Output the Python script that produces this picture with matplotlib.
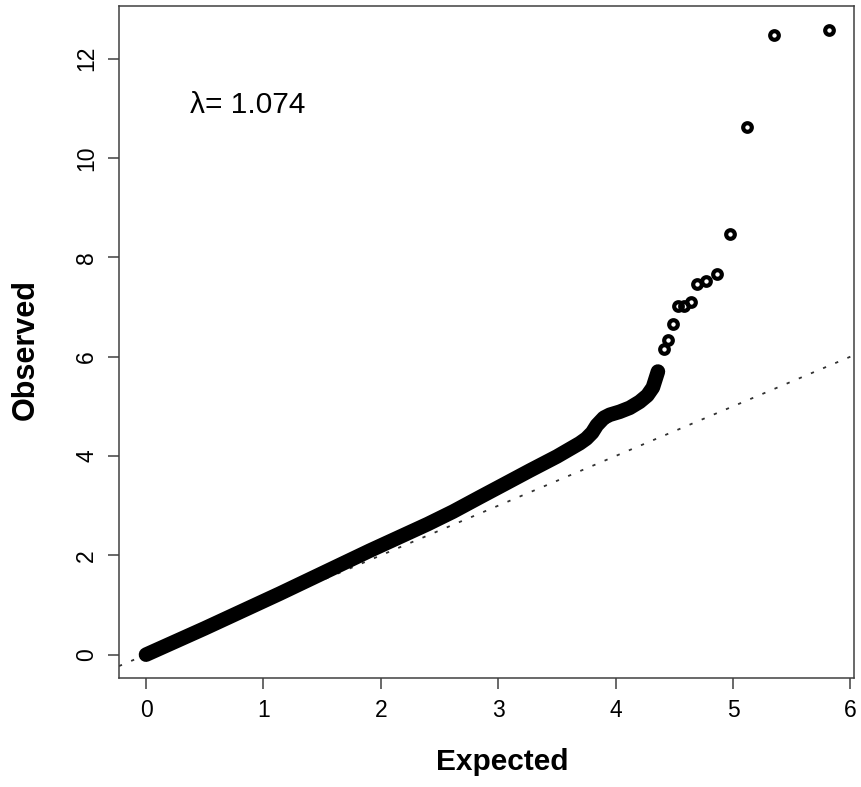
#QQ plot of observed vs expected -log10(p)

import numpy as np
import matplotlib
matplotlib.use('Agg')
import matplotlib.pyplot as plt

plt.rcParams['font.family'] = ['Liberation Sans', 'DejaVu Sans']

#dense part of the curve (points overlap into a solid band)
expected_main = [0.0, 0.5, 1.14, 1.906, 2.4, 2.615, 2.843, 3.05, 3.268, 3.5, 3.694, 3.75,
                 3.80, 3.84, 3.90, 3.95, 4.034, 4.12, 4.204, 4.27, 4.317, 4.36]
observed_main = [0.0, 0.53, 1.23, 2.094, 2.63, 2.88, 3.17, 3.43, 3.705, 3.99, 4.256, 4.35,
                 4.47, 4.62, 4.77, 4.83, 4.89, 4.97, 5.09, 5.22, 5.38, 5.70]

#sparse tail, single points
expected_tail = [4.41, 4.45, 4.49, 4.53, 4.58, 4.64, 4.69, 4.77, 4.86, 4.97, 5.12, 5.345, 5.82]
observed_tail = [6.15, 6.33, 6.66, 7.02, 7.02, 7.11, 7.46, 7.52, 7.66, 8.46, 10.62, 12.48, 12.58]

lambda_gc = 1.074

x_ticks = [0, 1, 2, 3, 4, 5, 6]
y_ticks = [0, 2, 4, 6, 8, 10, 12]

frame_color = '#404040'

fig = plt.figure(figsize=(8.61, 7.87), dpi=100)
ax = fig.add_axes([119 / 861, 1 - 678 / 787, (854 - 119) / 861, (678 - 6) / 787])

#y = x reference line
ax.axline((0, 0), slope=1, color='#303030', lw=1.3, linestyle=(0, (1.8, 5.5)), zorder=1)

ax.plot(expected_main, observed_main, color='black', lw=10.5,
        solid_capstyle='round', solid_joinstyle='round', zorder=2)
ax.plot(expected_tail, observed_tail, 'o', markersize=6.2, markeredgewidth=3.0,
        markerfacecolor='none', markeredgecolor='black', zorder=3)

ax.set_xlim(-0.23, 6.03)
ax.set_ylim(-0.47, 13.06)
ax.set_xticks(x_ticks)
ax.set_yticks(y_ticks)
ax.set_xticklabels([str(t) for t in x_ticks])
ax.set_yticklabels([str(t) for t in y_ticks], rotation=90, va='center')

ax.tick_params(axis='both', length=8, width=1.1, color=frame_color, labelsize=16.5, pad=7)
for s in ax.spines.values():
    s.set_color(frame_color)
    s.set_linewidth(1.1)

ax.text(0.375, 10.9, '\u03bb= %.3f' % lambda_gc, fontsize=21.5, va='baseline', ha='left')

fig.text(502.5 / 861, 1 - 770 / 787, 'Expected', fontsize=21.5, fontweight='bold',
         ha='center', va='baseline')
fig.text(26 / 861, 1 - 349.5 / 787, 'Observed', fontsize=22, fontweight='bold',
         ha='center', va='center', rotation=90)

fig.savefig('out.png', dpi=100)
